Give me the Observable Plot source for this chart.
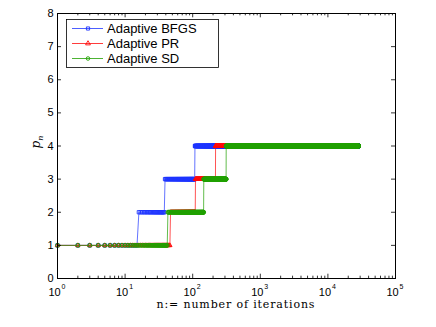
<!DOCTYPE html>
<html><head><meta charset="utf-8">
<script src="https://cdn.jsdelivr.net/npm/d3@7"></script>
<script src="https://cdn.jsdelivr.net/npm/@observablehq/plot@0.6"></script>
<style>body{margin:0;background:#fff} svg{display:block}</style>
</head><body><div id="chart"></div>
<script>
const methods = ["Adaptive BFGS", "Adaptive PR", "Adaptive SD"];
const colors = ["#1f36ff", "#ff0a0a", "#1fa000"];
const symbols = ["square", "triangle", "circle"];
const levels = [1, 2, 3, 4];
const bfgsStarts = [1, 16, 39, 108];
const prStarts = [1, 47, 110, 218];
const sdStarts = [1, 43, 146, 313];
const lastIteration = [28000, 28000, 28000];
const xTicks = [1, 10, 100, 1000, 10000, 100000];
const yTicks = [0, 1, 2, 3, 4, 5, 6, 7, 8];
const xLabel = "n:= number of iterations";

const startsList = [bfgsStarts, prStarts, sdStarts];
function expand(k) {
  const starts = startsList[k], rows = [];
  for (let n = 1; n <= lastIteration[k]; n++) {
    let i = 0;
    while (i + 1 < starts.length && starts[i + 1] <= n) i++;
    rows.push({method: methods[k], n, p: levels[i]});
  }
  return rows;
}
const series = methods.map((m, k) => expand(k));

const minor = [];
for (let e = 0; e < 5; e++) for (let m = 2; m <= 9; m++) minor.push(m * 10 ** e);

const font = "'Liberation Sans', Arial, sans-serif";
const tickLenY = 0.13, minorLenY = 0.07;
const tickLenX = 10 ** (4 / 67.6);
const markerR = [1.9, 1.6, 2];

const marks = [];
series.forEach((rows, k) => {
  marks.push(Plot.line(rows, {x: "n", y: "p", stroke: colors[k], strokeWidth: 0.7}));
  marks.push(Plot.dot(rows, {x: "n", y: "p", stroke: colors[k], symbol: () => symbols[k], r: markerR[k], strokeWidth: 0.9, fill: "none"}));
});

const chart = Plot.plot({
  width: 436, height: 327,
  marginLeft: 57, marginRight: 41, marginTop: 13, marginBottom: 49,
  style: {fontFamily: font, background: "#fff"},
  x: {type: "log", domain: [1, 100000], axis: null},
  y: {domain: [0, 8], axis: null},
  symbol: {type: "identity"},
  marks: [
    ...marks,
    Plot.frame({stroke: "#000", strokeWidth: 1}),
    Plot.ruleX(xTicks, {x: d => d, y1: 0, y2: tickLenY, stroke: "#000", strokeWidth: 0.8}),
    Plot.ruleX(xTicks, {x: d => d, y1: 8 - tickLenY, y2: 8, stroke: "#000", strokeWidth: 0.8}),
    Plot.ruleX(minor, {x: d => d, y1: 0, y2: minorLenY, stroke: "#000", strokeWidth: 0.8}),
    Plot.ruleX(minor, {x: d => d, y1: 8 - minorLenY, y2: 8, stroke: "#000", strokeWidth: 0.8}),
    Plot.ruleY(yTicks, {y: d => d, x1: 1, x2: tickLenX, stroke: "#000", strokeWidth: 0.8}),
    Plot.ruleY(yTicks, {y: d => d, x1: 100000 / tickLenX, x2: 100000, stroke: "#000", strokeWidth: 0.8}),
    Plot.text(yTicks, {x: 1, y: d => d, text: d => String(d), dx: -4, textAnchor: "end", fontSize: 11, fill: "#000"}),
    Plot.text(xTicks, {x: d => d, y: 0, text: () => "10", dy: 13.5, dx: -3, fontSize: 11, fill: "#000"}),
    Plot.text(xTicks, {x: d => d, y: 0, text: d => String(Math.round(Math.log10(d))), dy: 8.5, dx: 6, fontSize: 7, fill: "#000"})
  ]
});
document.getElementById("chart").appendChild(chart);

const svg = d3.select(chart);
// x label
svg.append("text").attr("x", 235.5).attr("y", 307.5).attr("text-anchor", "middle")
  .attr("font-family", "'DejaVu Serif', serif").attr("font-size", 11)
  .attr("textLength", 158).attr("lengthAdjust", "spacing").attr("fill", "#000").text(xLabel);
// y label p_n
const yl = svg.append("text").attr("transform", "translate(40,142) rotate(-90)").attr("text-anchor", "middle")
  .attr("font-family", "'DejaVu Serif', serif").attr("font-style", "italic").attr("font-size", 12).attr("fill", "#000");
yl.append("tspan").text("p");
yl.append("tspan").attr("dy", 3).attr("font-size", 8).text("n");
// legend
const lg = svg.append("g").attr("font-family", font).attr("font-size", 13).attr("text-anchor", "start");
lg.append("rect").attr("x", 66.5).attr("y", 19.5).attr("width", 152).attr("height", 48).attr("fill", "#fff").attr("stroke", "#000").attr("stroke-width", 0.8);
methods.forEach((m, k) => {
  const y = 28.5 + 15 * k;
  lg.append("line").attr("x1", 72).attr("x2", 103).attr("y1", y).attr("y2", y).attr("stroke", colors[k]).attr("stroke-width", 0.8);
  lg.append("path").attr("transform", `translate(88,${y})`).attr("d", d3.symbol(k === 0 ? d3.symbolSquare : k === 1 ? d3.symbolTriangle : d3.symbolCircle, 10)())
    .attr("fill", "none").attr("stroke", colors[k]).attr("stroke-width", 0.9);
  lg.append("text").attr("x", 107).attr("y", y + 4.5).attr("text-anchor", "start").attr("fill", "#000").text(m);
});
</script></body></html>
